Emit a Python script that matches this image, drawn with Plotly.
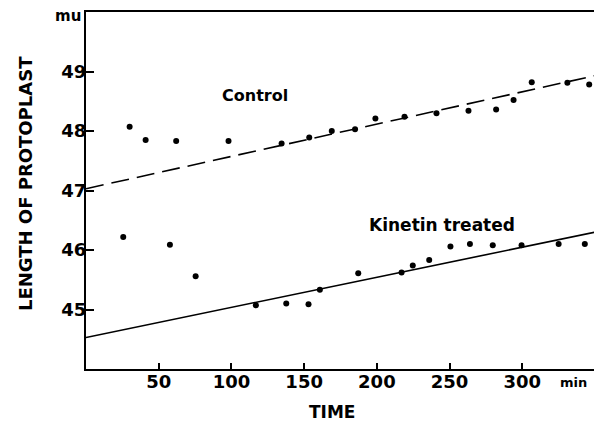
import plotly.graph_objects as go

# Control series (time in min, length in mu)
control_t = [30, 41, 62, 98, 134.5, 153.5, 169, 185, 199, 219, 241, 263, 282, 294, 306.5, 331, 346]
control_v = [48.07, 47.85, 47.83, 47.83, 47.79, 47.89, 48.0, 48.03, 48.21, 48.24, 48.30, 48.34, 48.36, 48.52, 48.82, 48.81, 48.78]
control_fit_t = [0, 350]
control_fit_v = [47.03, 48.93]

# Kinetin treated series
kinetin_t = [25.6, 57.7, 75.4, 116.8, 137.7, 153, 160.8, 187.2, 217, 224.7, 236, 250.6, 264, 279.7, 299.5, 325, 343]
kinetin_v = [46.22, 46.09, 45.56, 45.07, 45.10, 45.09, 45.33, 45.61, 45.62, 45.74, 45.83, 46.06, 46.10, 46.08, 46.08, 46.10, 46.10]
kinetin_fit_t = [0, 350]
kinetin_fit_v = [44.53, 46.30]

x_ticks = [50, 100, 150, 200, 250, 300]
y_ticks = [45, 46, 47, 48, 49]

FONT = "DejaVu Sans"

fig = go.Figure()
fig.add_trace(go.Scatter(x=control_fit_t, y=control_fit_v, mode="lines",
                         line=dict(color="black", width=1.6, dash="18px,8px"), showlegend=False))
fig.add_trace(go.Scatter(x=kinetin_fit_t, y=kinetin_fit_v, mode="lines",
                         line=dict(color="black", width=1.6), showlegend=False))
fig.add_trace(go.Scatter(x=control_t, y=control_v, mode="markers",
                         marker=dict(color="black", size=6), showlegend=False))
fig.add_trace(go.Scatter(x=kinetin_t, y=kinetin_v, mode="markers",
                         marker=dict(color="black", size=6), showlegend=False))

fig.add_annotation(x=116, y=48.6, text="Control", showarrow=False,
                   font=dict(family=FONT, size=16, color="black", weight="bold"))
fig.add_annotation(x=245, y=46.42, text="Kinetin treated", showarrow=False,
                   font=dict(family=FONT, size=17, color="black", weight="bold"))
fig.add_annotation(xref="paper", x=0, y=50, text="mu", showarrow=False, xanchor="right",
                   xshift=-3, yshift=-4,
                   font=dict(family=FONT, size=15, color="black", weight="bold"))
fig.add_annotation(x=335, yref="paper", y=0, text="min", showarrow=False, yanchor="top",
                   yshift=-4,
                   font=dict(family=FONT, size=13, color="black", weight="bold"))
# axis titles
fig.add_annotation(xref="paper", x=0.483, yref="paper", y=0, text="TIME", showarrow=False,
                   yanchor="middle", yshift=-43,
                   font=dict(family=FONT, size=17, color="black", weight="bold"))
fig.add_annotation(xref="paper", x=0, yref="paper", y=0.518, text="LENGTH OF PROTOPLAST",
                   showarrow=False, textangle=-90, xanchor="center", yanchor="middle", xshift=-61,
                   font=dict(family=FONT, size=18, color="black", weight="bold"))

fig.update_xaxes(range=[0, 350], tickvals=x_ticks, ticks="inside", ticklen=6, tickwidth=1.5,
                 tickcolor="black", showline=True, linecolor="black", linewidth=2, mirror=True,
                 showgrid=False, zeroline=False, automargin=False, ticklabelstandoff=-5,
                 tickfont=dict(family=FONT, size=18, color="black", weight="bold"))
fig.update_yaxes(range=[44, 50], tickvals=y_ticks, ticks="inside", ticklen=8, tickwidth=1.5,
                 tickcolor="black", showline=True, linecolor="black", linewidth=2, mirror=True,
                 showgrid=False, zeroline=False, automargin=False, ticklabelstandoff=-6,
                 tickfont=dict(family=FONT, size=18, color="black", weight="bold"))

# the page body adds an 8px offset; size and margins compensate for it
fig.update_layout(width=594, height=424, margin=dict(l=78, r=7, t=4, b=63),
                  paper_bgcolor="white", plot_bgcolor="white")

fig.write_html("out.html")
